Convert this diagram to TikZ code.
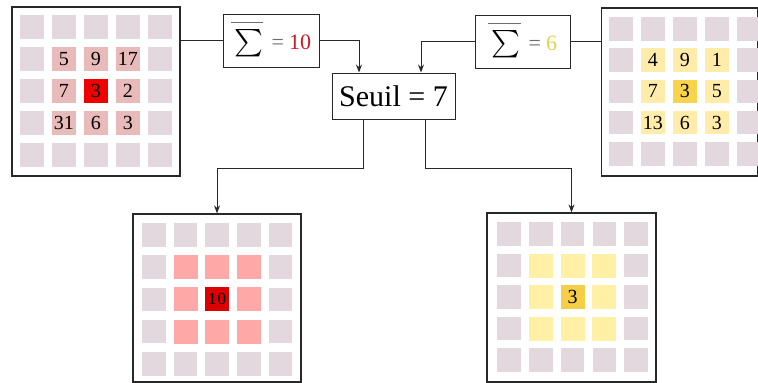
\documentclass[tikz,border=0pt]{standalone}
\usepackage{exscale}
\usepackage{graphicx}
\usepackage{fontspec}
\setmainfont{Liberation Serif}
\usetikzlibrary{arrows.meta}
\definecolor{cellgray}{RGB}{226,216,222}
\definecolor{palered}{RGB}{232,186,186}
\definecolor{strongred}{RGB}{240,0,0}
\definecolor{pinkcell}{RGB}{255,168,168}
\definecolor{deepred}{RGB}{220,0,0}
\definecolor{paleyellow}{RGB}{255,236,170}
\definecolor{strongyellow}{RGB}{247,212,76}
\definecolor{paleyellowb}{RGB}{255,240,165}
\definecolor{strongyellowb}{RGB}{245,206,70}
\definecolor{sumred}{RGB}{205,25,35}
\definecolor{sumyellow}{RGB}{225,210,80}
\definecolor{eqgray}{RGB}{110,110,110}
\definecolor{framegray}{RGB}{40,40,40}
\tikzset{
  cellbox/.style={rectangle, inner sep=0pt, minimum width=23.5pt, minimum height=23.5pt, font=\fontsize{20}{20}\selectfont},
  panelbox/.style={rectangle, draw=framegray, line width=1.3pt, inner sep=0pt},
  labelbox/.style={rectangle, draw=framegray, line width=1pt, inner sep=0pt, fill=white},
  conn/.style={line width=1pt, draw=framegray},
  arr/.style={conn, -{Stealth[length=8pt,width=6pt]}}
}
\newcommand\drawgrid[5]{%
  \foreach \i in {0,...,4}{\foreach \j in {0,...,4}{%
    \node[cellbox, fill=cellgray] (#1\i\j) at ({#2+#4*\i},{#3+#5*\j}) {};}}}
\newcommand\barsigma[2]{%
  \rlap{\raisebox{27pt}{\color{eqgray}\rule{#1}{0.9pt}}}\hspace{#2}%
  \raisebox{-1pt}{\scalebox{1.1}{\fontsize{27}{27}\selectfont$\sum$}}}
\begin{document}
\begin{tikzpicture}[x=1pt,y=-1pt]
\useasboundingbox (0,0) rectangle (758,383);
\fill[white] (0,0) rectangle (758,383);

% panels
\node[panelbox, minimum width=168pt, minimum height=169pt] (tl) at (96,91.5) {};
\node[panelbox, minimum width=156pt, minimum height=168pt] (tr) at (679.3,92) {};
\node[panelbox, minimum width=168pt, minimum height=168pt] (bl) at (217,298) {};
\node[panelbox, minimum width=169pt, minimum height=169pt] (br) at (571.5,297.5) {};

% grids
\drawgrid{a}{31.75}{26.75}{32}{32}
\drawgrid{b}{620.75}{28.75}{32}{31.3}
\drawgrid{c}{154}{235}{31.6}{32.2}
\drawgrid{d}{509}{234}{31.8}{31.5}

% top-left values
\foreach \i/\j/\t in {1/1/5,2/1/9,3/1/17,1/2/7,3/2/2,1/3/31,2/3/6,3/3/3}{
  \node[cellbox, fill=palered] (av\i\j) at ({31.75+32*\i},{26.75+32*\j}) {\t};}
\node[cellbox, fill=strongred] (avc) at ({31.75+64},{26.75+64}) {3};

% top-right values
\foreach \i/\j/\t in {1/1/4,2/1/9,3/1/1,1/2/7,3/2/5,1/3/13,2/3/6,3/3/3}{
  \node[cellbox, fill=paleyellow] (bv\i\j) at ({620.75+32*\i},{28.75+31.3*\j}) {\t};}
\node[cellbox, fill=strongyellow] (bvc) at ({620.75+64},{28.75+62.6}) {3};

% bottom-left result
\foreach \i/\j in {1/1,2/1,3/1,1/2,3/2,1/3,2/3,3/3}{
  \node[cellbox, minimum size=24pt, fill=pinkcell] (cv\i\j) at ({154+31.6*\i},{235+32.2*\j}) {};}
\node[cellbox, minimum size=24pt, fill=deepred, font=\fontsize{17}{17}\selectfont] (cvc) at ({154+63.2},{235+64.4}) {1\kern1pt0};

% bottom-right result
\foreach \i/\j in {1/1,2/1,3/1,1/2,3/2,1/3,2/3,3/3}{
  \node[cellbox, minimum size=24pt, fill=paleyellowb] (dv\i\j) at ({509+31.8*\i},{234+31.5*\j}) {};}
\node[cellbox, minimum size=24pt, fill=strongyellowb] (dvc) at ({509+63.6},{234+63}) {3};

% label boxes
\node[labelbox, minimum width=96pt, minimum height=53pt, font=\fontsize{22}{22}\selectfont] (suml) at (271,40.5)
  {\rule[-10pt]{0pt}{1pt}\barsigma{32pt}{4pt}\hspace{8pt}\textcolor{eqgray}{=}\hspace{5pt}\textcolor{sumred}{10}\hspace{6pt}};
\node[labelbox, minimum width=95pt, minimum height=53pt, font=\fontsize{22}{22}\selectfont] (sumr) at (522.5,41.5)
  {\rule[-10pt]{0pt}{1pt}\barsigma{33pt}{4pt}\hspace{8pt}\textcolor{eqgray}{=}\hspace{5pt}\textcolor{sumyellow}{6}\hspace{22pt}};
\node[labelbox, minimum width=123pt, minimum height=46pt, font=\fontsize{30}{30}\selectfont] (seuil) at (393.5,96) {Seuil = 7};

% connectors
\coordinate (inl) at (359,73);
\coordinate (inr) at (421,73);
\coordinate (outl) at (363,168);
\coordinate (outr) at (425,168);
\draw[conn] (tl.east |- suml.west) -- (suml.west);
\draw[arr] (suml.east) -| (inl |- seuil.north);
\draw[conn] (tr.west |- sumr.east) -- (sumr.east);
\draw[arr] (sumr.west) -| (inr |- seuil.north);
\draw[arr] (outl |- seuil.south) -- (outl) -| (bl.north);
\draw[arr] (outr |- seuil.south) -- (outr) -| (br.north);
\end{tikzpicture}
\end{document}
